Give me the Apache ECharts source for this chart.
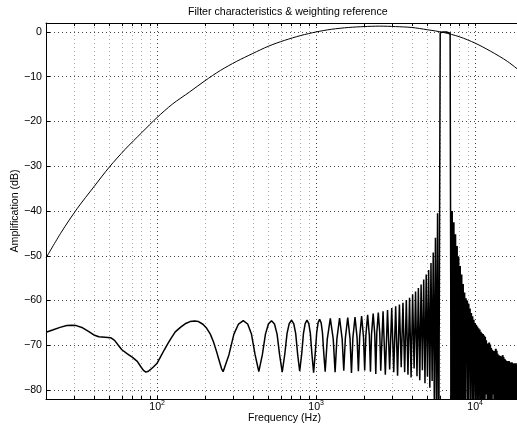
<!DOCTYPE html>
<html><head><meta charset="utf-8">
<script src="https://cdn.jsdelivr.net/npm/echarts@6/dist/echarts.min.js"></script>
<style>html,body{margin:0;padding:0;background:#fff}#c{width:517px;height:434px}</style>
</head><body><div id="c"></div>
<script>
// ---------- text ----------
const chartTitle = 'Filter characteristics & weighting reference';
const xName = 'Frequency (Hz)';
const yName = 'Amplification (dB)';

// ---------- axes ----------
const xMin = 20, xMax = 20000;
const yMin = -82, yMax = 2;
const xMajorTicks = [100, 1000, 10000];
const xAllTicks = [20,30,40,50,60,70,80,90,100,200,300,400,500,600,700,800,900,1000,
  2000,3000,4000,5000,6000,7000,8000,9000,10000,20000];
const yTickMin = -80, yTickMax = 0, yTickStep = 10;

// ---------- weighting curve ----------
const aWeightHz = [20,25,31.5,40,50,63,80,100,125,160,200,250,315,400,500,630,800,1000,
  1250,1600,2000,2500,3150,4000,5000,6300,8000,10000,12500,16000,20000];
const aWeightDb = [-50.5,-44.7,-39.4,-34.6,-30.2,-26.2,-22.5,-19.1,-16.1,-13.4,-10.9,-8.6,-6.6,-4.8,-3.2,-1.9,-0.8,0,
  0.6,1.0,1.2,1.3,1.2,1.0,0.5,-0.1,-1.1,-2.5,-4.3,-6.6,-9.3];

// ---------- filter response, below the pass band [Hz, dB] ----------
const filterLow = [
  [20,-67.1],[22,-66.6],[24.5,-66.0],[27,-65.6],[29,-65.5],[31,-65.6],[34,-66.1],[37,-66.9],[40,-67.7],
  [43,-68.1],[47,-68.2],[51,-68.3],[54,-68.9],[57,-70.0],[60,-71.0],[65,-71.9],[70,-72.7],[75,-73.6],
  [79,-74.8],[82,-75.6],[85,-76.0],[88,-75.8],[91,-75.4],[95,-74.8],[100,-74.0],[105,-72.6],[111,-71.0],
  [117,-69.6],[122,-68.5],[130,-67.0],[140,-66.0],[150,-65.2],[161,-64.7],[172,-64.6],[182,-64.7],
  [194,-65.3],[205,-66.2],[216,-67.5],[226,-69.2],[236,-71.3],[246,-73.5],[254,-75.2],[260,-75.9],
  [283,-72.1],[304,-67.5],[325,-65.25],[348,-64.5],[371,-65.25],[392,-67.5],[413,-72.1],[436,-75.9],
  [459,-72.1],[480,-67.5],[501,-65.25],[524,-64.5],[547,-65.25],[568,-67.5],[589,-72.1],[612,-76.0],
  [635,-72.0],[656,-67.4],[677,-65.15],[700,-64.4],[723,-65.15],[744,-67.4],[765,-72.0],[788,-75.8],
  [811,-72.0],[832,-67.4],[853,-65.15],[876,-64.4],[899,-65.15],[920,-67.4],[941,-72.0],[964,-76.1],
  [987,-71.8],[1008,-67.2],[1029,-64.95],[1052,-64.2],[1075,-64.95],[1096,-67.2],[1117,-71.8],[1140,-75.9],
  [1175,-68.6],[1228,-64.0],[1281,-68.6],[1316,-76.0],
  [1351,-68.5],[1404,-63.9],[1457,-68.5],[1492,-75.7],
  [1527,-68.4],[1580,-63.8],[1633,-68.4],[1668,-76.2],
  [1703,-68.3],[1756,-63.7],[1809,-68.3],[1844,-75.8],
  [1879,-68.1],[1932,-63.5],[1985,-68.1],[2020,-75.6],
  [2055,-67.8],[2108,-63.2],[2161,-67.8],[2196,-75.9],
  [2231,-67.5],[2284,-62.9],[2337,-67.5],[2372,-76.4],
  [2407,-67.3],[2460,-62.7],[2513,-67.3],[2548,-75.7],
  [2636,-62.4],[2724,-76.6],[2812,-62.1],[2900,-75.4],[2988,-61.7],[3076,-76.0],[3164,-61.3],[3252,-76.8],
  [3340,-60.9],[3428,-74.9],[3516,-60.5],[3604,-76.0],[3692,-59.9],[3780,-76.6],[3868,-59.4],[3956,-77.2],
  [4044,-58.6],[4132,-75.2],[4220,-58.0],[4308,-76.9],[4396,-57.2],[4484,-77.8],[4572,-56.4],[4660,-75.6],
  [4748,-55.3],[4836,-78.5],[4924,-54.2],[5012,-77.0],[5100,-53.2],[5188,-79.5],[5276,-51.6],[5364,-78.0],
  [5452,-49.3],[5540,-84.0],[5628,-46.0],[5716,-85.0],[5804,-40.5],[5900,-100]
];
// ---------- pass band ----------
const filterPass = [[6030,-0.2],[6300,0],[6600,0],[6960,-0.3],[7070,-100]];
// ---------- above the pass band ----------
const filterHigh = [
  [7150,-40],[7238,-95],[7326,-42.5],[7414,-92],[7502,-45.2],[7590,-95],[7678,-47.8],[7766,-90],
  [7854,-50.2],[7942,-95],[8030,-52.3],[8118,-88],[8206,-54.2],[8294,-95],[8382,-56.3],[8470,-86],
  [8558,-58.2],[8646,-92],[8734,-59.5],[8822,-72],[8910,-60.0],[8998,-90],[9086,-60.7],[9174,-73],
  [9262,-61.8],[9350,-88],[9438,-62.8],[9526,-76],[9614,-63.5],[9702,-90],[9790,-64.3],[9878,-77],
  [9966,-65.0],[10054,-84],[10142,-65.4],[10230,-79],[10318,-65.8],[10406,-92],[10494,-66.2],[10582,-78],
  [10670,-66.5],[10758,-82],[10846,-67.0],[10934,-88],[11022,-67.3],[11110,-79],[11198,-67.5],[11286,-84],
  [11374,-67.8],[11462,-92],[11550,-68.1],[11638,-78],[11726,-68.9],[11814,-81],[11902,-69.6],[11990,-90],
  [12078,-70.2],[12166,-79],[12254,-69.4],[12342,-84],[12430,-69.8],[12518,-80],[12606,-70.6],[12694,-92],
  [12782,-71.0],[12870,-81],[12958,-71.2],[13046,-79],[13134,-71.3],[13222,-86],[13310,-71.4],[13398,-80],
  [13486,-70.8],[13574,-90],[13662,-71.2],[13750,-81],[13838,-71.9],[13926,-83],[14014,-72.2],[14102,-92],
  [14190,-72.3],[14278,-80],[14366,-72.4],[14454,-84],[14542,-72.5],[14630,-81],[14718,-72.6],[14806,-90],
  [14894,-72.2],[14982,-82],[15070,-72.6],[15158,-80],[15246,-73.0],[15334,-88],[15422,-73.2],[15510,-82],
  [15598,-73.4],[15686,-81],[15774,-73.5],[15862,-92],[15950,-73.6],[16038,-81],[16126,-73.7],[16214,-84],
  [16302,-73.5],[16390,-82],[16478,-73.8],[16566,-90],[16654,-73.9],[16742,-81],[16830,-74.0],[16918,-83],
  [17006,-73.8],[17094,-92],[17182,-74.0],[17270,-82],[17358,-74.1],[17446,-81],[17534,-74.1],[17622,-88],
  [17710,-74.0],[17798,-82],[17886,-74.1],[17974,-84],[18062,-74.2],[18150,-81],[18238,-74.0],[18326,-90],
  [18414,-74.2],[18502,-82],[18590,-74.3],[18678,-83],[18766,-74.3],[18854,-88],[18942,-74.4],[19030,-82],
  [19118,-74.4],[19206,-84],[19294,-74.5],[19382,-82],[19470,-74.5],[19558,-88],[19646,-74.6],[19734,-82],
  [19822,-74.6],[19910,-84],[20000,-74.7]
];

// ---------- layout ----------
const FONT = '"Liberation Sans", Arial, Helvetica, sans-serif';
const FS = 10.6;
const L = 46, T = 23, W = 477, H = 376;
const pxPerDb = H / (yMax - yMin);
const T1 = T + (yMax - yTickMax) * pxPerDb;
const H1 = (yTickMax - yTickMin) * pxPerDb;

const minorGrid = { show: true, lineStyle: { color: '#a8a8a8', width: 1, type: [1, 3] } };
const majorGrid = { show: true, lineStyle: { color: '#444', width: 1, type: [1, 3] } };
const frame = { show: true, onZero: false, lineStyle: { color: '#000', width: 1 } };
const hiddenLine = { show: false, onZero: false };
const off = { show: false };

const aWeight = aWeightHz.map((f, i) => [f, aWeightDb[i]]);
const filterMain = filterLow.concat(filterPass);
const filterUpper = [filterPass[filterPass.length - 1]].concat(filterHigh);

const chart = echarts.init(document.getElementById('c'), null, { renderer: 'canvas' });
chart.setOption({
  animation: false,
  backgroundColor: '#fff',
  title: {
    text: chartTitle, left: 188, top: 7, padding: 0,
    textStyle: { fontFamily: FONT, fontSize: FS, fontWeight: 'normal', color: '#000' }
  },
  grid: [
    { left: L, top: T, width: W, height: H, outerBoundsMode: 'none', containLabel: false },
    { left: L, top: T1, width: W, height: H1, outerBoundsMode: 'none', containLabel: false }
  ],
  xAxis: [
    { gridIndex: 0, type: 'log', logBase: 10, min: xMin, max: xMax, position: 'bottom',
      axisLine: frame,
      axisTick: { show: true, inside: true, length: 3, customValues: xAllTicks, lineStyle: { color: '#000' } },
      axisLabel: { show: true, customValues: xMajorTicks, margin: 1,
        formatter: v => '{b|10}{s|' + Math.round(Math.log10(v)) + '}',
        rich: { b: { fontFamily: FONT, fontSize: FS, color: '#000', lineHeight: 14 },
                s: { fontFamily: FONT, fontSize: 7, color: '#000', lineHeight: 7, verticalAlign: 'top' } } },
      splitLine: minorGrid, minorTick: off, minorSplitLine: off,
      name: xName, nameLocation: 'middle', nameGap: 14, nameMoveOverlap: false,
      nameTextStyle: { fontFamily: FONT, fontSize: FS, color: '#000' } },
    { gridIndex: 0, type: 'log', logBase: 10, min: xMin, max: xMax, position: 'top',
      axisLine: frame,
      axisTick: { show: true, inside: true, length: 3, customValues: xAllTicks, lineStyle: { color: '#000' } },
      axisLabel: off, splitLine: off },
    { gridIndex: 0, type: 'log', logBase: 10, min: xMin, max: xMax, position: 'bottom',
      axisLine: hiddenLine, axisTick: { show: false, customValues: xMajorTicks }, axisLabel: off,
      splitLine: majorGrid },
    { gridIndex: 1, type: 'log', logBase: 10, min: xMin, max: xMax, show: false, axisLine: hiddenLine }
  ],
  yAxis: [
    { gridIndex: 0, type: 'value', min: yMin, max: yMax, position: 'left',
      axisLine: frame, axisTick: off, axisLabel: off, splitLine: off,
      name: yName, nameLocation: 'middle', nameGap: 25, nameMoveOverlap: false,
      nameTextStyle: { fontFamily: FONT, fontSize: FS, color: '#000' } },
    { gridIndex: 0, type: 'value', min: yMin, max: yMax, position: 'right',
      axisLine: frame, axisTick: off, axisLabel: off, splitLine: off },
    { gridIndex: 1, type: 'value', min: yTickMin, max: yTickMax, interval: yTickStep, position: 'left',
      axisLine: hiddenLine,
      axisTick: { show: true, inside: true, length: 4, lineStyle: { color: '#000' } },
      axisLabel: { show: true, margin: 4, fontFamily: FONT, fontSize: FS, color: '#000',
        formatter: v => v < 0 ? '\u2212' + (-v) : String(v) },
      splitLine: majorGrid },
    { gridIndex: 1, type: 'value', min: yTickMin, max: yTickMax, interval: yTickStep, position: 'right',
      axisLine: hiddenLine,
      axisTick: { show: true, inside: true, length: 4, lineStyle: { color: '#000' } },
      axisLabel: off, splitLine: off }
  ],
  series: [
    { type: 'line', xAxisIndex: 0, yAxisIndex: 0, data: aWeight, smooth: 0.3,
      showSymbol: false, symbol: 'none', silent: true, clip: true,
      lineStyle: { color: '#000', width: 1 } },
    { type: 'line', xAxisIndex: 0, yAxisIndex: 0, data: filterMain, smooth: false,
      showSymbol: false, symbol: 'none', silent: true, clip: true,
      lineStyle: { color: '#000', width: 1.5 } },
    { type: 'line', xAxisIndex: 0, yAxisIndex: 0, data: filterUpper, smooth: false,
      showSymbol: false, symbol: 'none', silent: true, clip: true,
      lineStyle: { color: '#000', width: 2 } }
  ]
});
</script></body></html>
